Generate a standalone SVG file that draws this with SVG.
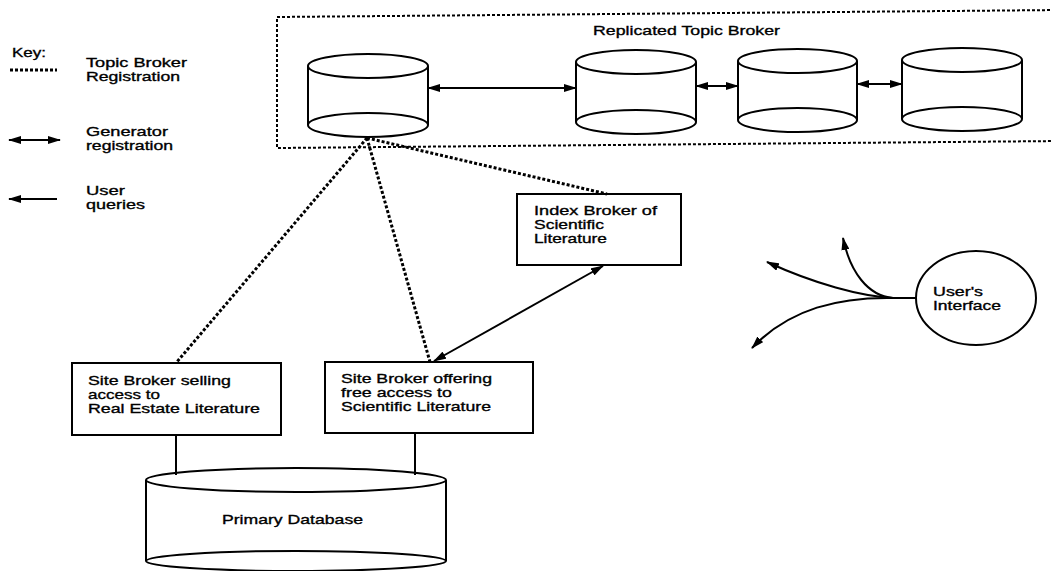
<svg xmlns="http://www.w3.org/2000/svg" width="1052" height="571" viewBox="0 0 1052 571">
<style>
  .t { font-family: "Liberation Sans", Arial, sans-serif; font-size: 13.5px; fill: #000; stroke: #000; stroke-width: 0.35; font-variant-ligatures: none; }
  .shape { fill: none; stroke: #000; stroke-width: 2; }
  .solid { fill: none; stroke: #000; stroke-width: 2; }
  .dot { fill: none; stroke: #000; stroke-width: 3; stroke-dasharray: 3 2; }
  .frame { fill: none; stroke: #000; stroke-width: 2; stroke-dasharray: 3 2; }
</style>
<defs>
  <marker id="ah" viewBox="0 0 13 8" refX="12" refY="4" markerWidth="13" markerHeight="8" markerUnits="userSpaceOnUse" orient="auto-start-reverse">
    <path d="M0,0 L13,4 L0,8 z" fill="#000"/>
  </marker>
</defs>
<rect width="1052" height="571" fill="#fff"/>

<g id="key">
  <text class="t" x="12" y="57" textLength="34" lengthAdjust="spacingAndGlyphs">Key:</text>
  <line class="dot" x1="10" y1="70" x2="57" y2="70"/>
  <text class="t" x="86" y="67" textLength="101" lengthAdjust="spacingAndGlyphs">Topic Broker</text>
  <text class="t" x="86" y="81" textLength="94" lengthAdjust="spacingAndGlyphs">Registration</text>
  <line class="solid" x1="9" y1="140" x2="60" y2="140" marker-start="url(#ah)" marker-end="url(#ah)"/>
  <text class="t" x="86" y="136" textLength="82" lengthAdjust="spacingAndGlyphs">Generator</text>
  <text class="t" x="86" y="150" textLength="87" lengthAdjust="spacingAndGlyphs">registration</text>
  <line class="solid" x1="57" y1="199" x2="9" y2="199" marker-end="url(#ah)"/>
  <text class="t" x="86" y="195" textLength="39" lengthAdjust="spacingAndGlyphs">User</text>
  <text class="t" x="86" y="209" textLength="59" lengthAdjust="spacingAndGlyphs">queries</text>
</g>

<g id="replicated-topic-broker">
  <path class="frame" d="M1060,10 L277,17 L277,148 L1060,141"/>
  <text class="t" x="593" y="35" textLength="187" lengthAdjust="spacingAndGlyphs">Replicated Topic Broker</text>
</g>

<g id="topic-broker-1">
  <ellipse class="shape" cx="368" cy="66" rx="60" ry="12"/>
  <ellipse class="shape" cx="368" cy="125" rx="60" ry="12"/>
  <path class="shape" d="M308,66 V125 M428,66 V125"/>
</g>
<g id="topic-broker-2">
  <ellipse class="shape" cx="636" cy="62" rx="60" ry="12"/>
  <ellipse class="shape" cx="636" cy="122" rx="60" ry="12"/>
  <path class="shape" d="M576,62 V122 M696,62 V122"/>
</g>
<g id="topic-broker-3">
  <ellipse class="shape" cx="797.5" cy="61" rx="59.5" ry="12"/>
  <ellipse class="shape" cx="797.5" cy="120" rx="59.5" ry="12"/>
  <path class="shape" d="M738,61 V120 M857,61 V120"/>
</g>
<g id="topic-broker-4">
  <ellipse class="shape" cx="962" cy="60" rx="60" ry="12"/>
  <ellipse class="shape" cx="962" cy="119" rx="60" ry="12"/>
  <path class="shape" d="M902,60 V119 M1022,60 V119"/>
</g>

<g id="index-broker">
  <rect class="shape" x="517" y="194" width="164" height="71"/>
  <text class="t" x="534" y="215" textLength="123" lengthAdjust="spacingAndGlyphs">Index Broker of</text>
  <text class="t" x="534" y="229" textLength="70" lengthAdjust="spacingAndGlyphs">Scientific</text>
  <text class="t" x="534" y="243" textLength="73" lengthAdjust="spacingAndGlyphs">Literature</text>
</g>

<g id="site-broker-selling">
  <rect class="shape" x="72" y="363" width="209" height="72"/>
  <text class="t" x="88" y="385" textLength="143" lengthAdjust="spacingAndGlyphs">Site Broker selling</text>
  <text class="t" x="88" y="399" textLength="72" lengthAdjust="spacingAndGlyphs">access to</text>
  <text class="t" x="88" y="413" textLength="172" lengthAdjust="spacingAndGlyphs">Real Estate Literature</text>
</g>

<g id="site-broker-offering">
  <rect class="shape" x="325" y="362" width="208" height="71"/>
  <text class="t" x="341" y="383" textLength="151" lengthAdjust="spacingAndGlyphs">Site Broker offering</text>
  <text class="t" x="341" y="397" textLength="111" lengthAdjust="spacingAndGlyphs">free access to</text>
  <text class="t" x="341" y="411" textLength="150" lengthAdjust="spacingAndGlyphs">Scientific Literature</text>
</g>

<g id="primary-database">
  <ellipse class="shape" cx="296" cy="480" rx="150" ry="12"/>
  <ellipse class="shape" cx="296" cy="561" rx="150" ry="10"/>
  <path class="shape" d="M146,480 V561 M446,480 V561"/>
  <text class="t" x="222" y="524" textLength="141" lengthAdjust="spacingAndGlyphs">Primary Database</text>
</g>

<g id="users-interface">
  <ellipse class="shape" cx="976" cy="298" rx="60" ry="47"/>
  <text class="t" x="933" y="296" textLength="50" lengthAdjust="spacingAndGlyphs">User's</text>
  <text class="t" x="933" y="310" textLength="68" lengthAdjust="spacingAndGlyphs">Interface</text>
</g>

<g id="connectors">
  <line class="dot" x1="367" y1="138" x2="176" y2="363"/>
  <line class="dot" x1="367" y1="138" x2="430" y2="362"/>
  <line class="dot" x1="367" y1="138" x2="607" y2="194"/>
  <line class="solid" x1="428" y1="88" x2="576" y2="88" marker-start="url(#ah)" marker-end="url(#ah)"/>
  <line class="solid" x1="696" y1="86" x2="738" y2="86" marker-start="url(#ah)" marker-end="url(#ah)"/>
  <line class="solid" x1="857" y1="84" x2="902" y2="84" marker-start="url(#ah)" marker-end="url(#ah)"/>
  <line class="solid" x1="434" y1="361" x2="603" y2="266" marker-start="url(#ah)" marker-end="url(#ah)"/>
  <line class="solid" x1="176" y1="435" x2="176" y2="475"/>
  <line class="solid" x1="415" y1="433" x2="415" y2="475"/>
  <path class="solid" d="M916,298 L893,298"/>
  <path class="solid" d="M893,298 C868,296 850,272 843,238" marker-end="url(#ah)"/>
  <path class="solid" d="M893,298 C860,296 815,284 767,262" marker-end="url(#ah)"/>
  <path class="solid" d="M893,298 C840,297 790,308 752,348" marker-end="url(#ah)"/>
</g>
</svg>
